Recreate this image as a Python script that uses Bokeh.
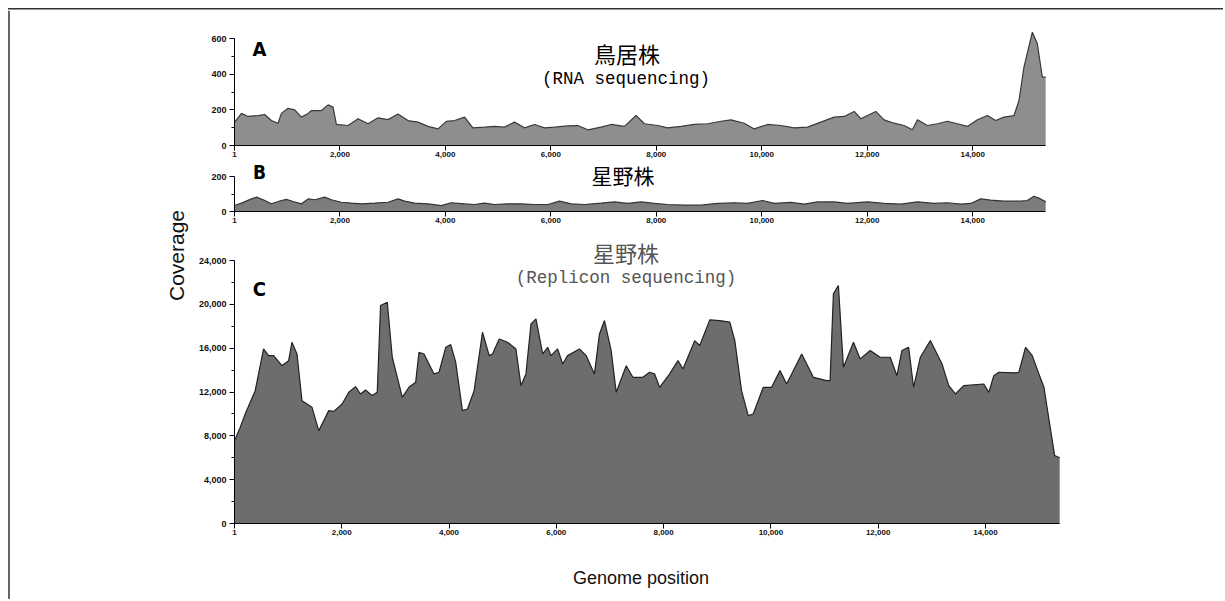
from math import pi
from bokeh.plotting import figure
from bokeh.layouts import row, column
from bokeh.models import Range1d, FixedTicker, NumeralTickFormatter, Label, Span, Div
from bokeh.embed import file_html
from bokeh.resources import INLINE

GENOME_LEN = 15384
x_ticks = [1, 2000, 4000, 6000, 8000, 10000, 12000, 14000]

# Panel A: Torii strain, RNA sequencing
a_pos = [1, 133, 259, 448, 574, 700, 827, 890, 1017, 1143, 1270, 1397, 1460, 1649, 1776, 1870,
         1933, 2155, 2344, 2534, 2723, 2913, 3102, 3291, 3481, 3670, 3860, 4017, 4175, 4364,
         4522, 4743, 4932, 5122, 5311, 5501, 5690, 5880, 6069, 6322, 6511, 6701, 6953, 7143,
         7395, 7616, 7774, 8027, 8217, 8469, 8722, 8975, 9226, 9416, 9668, 9857, 10111, 10363,
         10615, 10868, 11120, 11373, 11562, 11752, 11878, 12005, 12162, 12320, 12510, 12699,
         12857, 12952, 13142, 13331, 13521, 13710, 13900, 14089, 14279, 14436, 14593, 14783,
         14878, 14972, 15131, 15226, 15320, 15384]
a_cov = [130, 180, 163, 168, 174, 140, 125, 180, 209, 200, 159, 180, 196, 196, 228, 215,
         118, 112, 150, 122, 155, 145, 177, 140, 131, 107, 93, 135, 140, 159,
         99, 103, 107, 103, 131, 99, 118, 99, 103, 110, 112, 88, 103, 118,
         107, 168, 122, 112, 99, 107, 118, 122, 136, 144, 125, 93, 118, 112,
         99, 103, 131, 159, 163, 191, 150, 168, 191, 144, 125, 112,
         88, 144, 112, 122, 136, 122, 107, 144, 168, 140, 159, 168,
         252, 439, 635, 570, 383, 383]

# Panel B: Hoshino strain, RNA sequencing
b_pos = [1, 133, 323, 418, 545, 700, 890, 986, 1112, 1270, 1397, 1523, 1712, 1838, 2028,
         2217, 2406, 2659, 2913, 3102, 3228, 3418, 3670, 3922, 4112, 4364, 4553, 4743, 4932,
         5185, 5438, 5690, 5943, 6164, 6385, 6637, 6953, 7206, 7458, 7711, 7964, 8217, 8532,
         8848, 9164, 9479, 9731, 10016, 10237, 10552, 10805, 11057, 11373, 11625, 12005,
         12320, 12636, 12952, 13268, 13521, 13773, 13963, 14152, 14341, 14593, 14909, 15035,
         15162, 15288, 15384]
b_cov = [34, 48, 72, 82, 67, 44, 63, 69, 57, 44, 72, 67, 82, 67, 53,
         48, 44, 48, 53, 72, 59, 48, 44, 34, 50, 44, 40, 48, 40,
         44, 44, 40, 40, 59, 44, 40, 48, 55, 46, 55, 46, 40, 36,
         36, 46, 50, 46, 63, 46, 52, 42, 55, 55, 46, 55,
         46, 42, 55, 46, 50, 42, 46, 72, 65, 59, 59, 63,
         87, 72, 55]

# Panel C: Hoshino strain, replicon sequencing
c_pos = [1, 107, 200, 387, 543, 636, 730, 885, 1010, 1072, 1166, 1259, 1446, 1571, 1758,
         1851, 2007, 2132, 2257, 2350, 2444, 2568, 2662, 2724, 2849, 2942, 3129, 3253, 3378,
         3440, 3534, 3720, 3814, 3939, 4032, 4125, 4250, 4344, 4468, 4624, 4749, 4811, 4936,
         5092, 5247, 5341, 5434, 5528, 5621, 5746, 5839, 5900, 6025, 6119, 6212, 6431, 6556,
         6711, 6805, 6898, 7023, 7117, 7304, 7428, 7614, 7739, 7833, 7926, 8113, 8269, 8362,
         8580, 8674, 8861, 9048, 9235, 9328, 9453, 9578, 9671, 9858, 10014, 10170, 10294,
         10575, 10792, 11042, 11104, 11166, 11259, 11353, 11540, 11665, 11852, 12038, 12225,
         12350, 12443, 12568, 12661, 12786, 12973, 13191, 13316, 13440, 13596, 13969, 14063,
         14156, 14250, 14561, 14623, 14748, 14873, 14997, 15091, 15184, 15290, 15384]
c_cov = [7550, 8770, 9990, 12120, 15930, 15320, 15320, 14400, 14860, 16540, 15470, 11210,
         10600, 8470, 10300, 10230, 10900, 11970, 12490, 11820, 12180, 11670, 11970, 19890,
         20190, 15170, 11510, 12430, 12880, 15620, 15470, 13650, 13800, 16080, 16330, 14710,
         10300, 10450, 12120, 17450, 15320, 15470, 16840, 16540, 15930, 12580, 13650, 18210,
         18670, 15470, 16080, 15320, 15930, 14560, 15320, 15930, 15320, 13650, 17300, 18520,
         15780, 11970, 14400, 13340, 13340, 13800, 13650, 12430, 13650, 14860, 14100, 16690,
         16240, 18580, 18520, 18370, 16690, 12120, 9840, 9990, 12430, 12430, 13950, 12730,
         15470, 13340, 13040, 13040, 20960, 21720, 14250, 16540, 15020, 15780, 15170, 15170,
         13490, 15780, 16080, 12430, 15170, 16690, 14560, 12580, 11820, 12580, 12730, 11970,
         13490, 13800, 13750, 13800, 16080, 15320, 13650, 12430, 9500, 6200, 6000]

a_yticks, a_yminor, a_ytop = [0, 200, 400, 600], [100, 300, 500], 600
b_yticks, b_yminor, b_ytop = [0, 200], [100], 200
c_yticks = [0, 4000, 8000, 12000, 16000, 20000, 24000]
c_yminor = [2000, 6000, 10000, 14000, 18000, 22000]
c_ytop = 24000

# ---- layout geometry (page pixels) ----
TOTAL_W, TOTAL_H = 1223, 599
TOP_H = 10
LEFT_W = 195
PANEL_W = TOTAL_W - LEFT_W
FRAME_L = 233                       # page x of the plot frames' left edge
FRAME_W = TOTAL_W - FRAME_L
A_PXPU = 812 / (GENOME_LEN - 1)     # px per base, panels A/B
C_PXPU = 826 / (GENOME_LEN - 1)     # px per base, panel C

A_TOP, A_BOT, A_H = TOP_H, 145, 150
B_TOP, B_BOT, B_H = A_TOP + A_H, 211, 76
C_TOP, C_BOT, C_H = B_TOP + B_H, 523, 324
G_TOP = C_TOP + C_H
G_H = TOTAL_H - G_TOP

a_ppv = 107 / 600
b_ppv = 35 / 200
c_ppv = 263 / 24000

TICK_FONT = "Liberation Sans"


def panel(pos, cov, fill, edge, h, top, bot, ppv, pxpu, ytop, yticks, yminor):
    frame_h = bot - top
    p = figure(width=PANEL_W, height=h,
               x_range=Range1d(1, 1 + FRAME_W / pxpu), y_range=Range1d(0, frame_h / ppv),
               output_backend="svg", toolbar_location=None,
               min_border_left=FRAME_L - LEFT_W, min_border_right=0,
               min_border_top=0, min_border_bottom=h - frame_h,
               outline_line_color=None, background_fill_color="white", border_fill_color="white")
    p.grid.visible = False
    p.varea(x=pos, y1=0, y2=cov, fill_color=fill)
    p.line(x=pos, y=cov, line_color=edge, line_width=1.2)
    xa = p.xaxis[0]
    xa.ticker = FixedTicker(ticks=x_ticks)
    xa.formatter = NumeralTickFormatter(format="0,0")
    xa.bounds = (1, GENOME_LEN)
    xa.major_tick_out = 5
    xa.major_tick_in = 0
    xa.minor_tick_out = 0
    xa.minor_tick_in = 0
    xa.major_label_standoff = 1
    xa.major_label_text_font_size = "8px"
    ya = p.yaxis[0]
    ya.ticker = FixedTicker(ticks=yticks, minor_ticks=yminor)
    ya.formatter = NumeralTickFormatter(format="0,0")
    ya.bounds = (0, ytop)
    ya.major_tick_out = 5
    ya.major_tick_in = 0
    ya.minor_tick_out = 3
    ya.minor_tick_in = 0
    ya.major_label_standoff = 3
    ya.major_label_text_font_size = "9px"
    for ax in (xa, ya):
        ax.axis_line_color = "black"
        ax.major_tick_line_color = "black"
        ax.minor_tick_line_color = "black"
        ax.major_label_text_font = TICK_FONT
        ax.major_label_text_font_style = "bold"
        ax.major_label_text_color = "#111111"
    return p


def add_text(p, x, y, text, font, size, color="black", style="normal", angle=0):
    p.add_layout(Label(x=x, y=y, text=text, text_font=font, text_font_size=size,
                       text_color=color, text_font_style=style, angle=angle,
                       text_align="center", text_baseline="middle"))


def blank(w, h, xr, yr, left=0):
    p = figure(width=w, height=h, x_range=Range1d(*xr), y_range=Range1d(*yr),
               x_axis_location=None, y_axis_location=None, output_backend="svg",
               toolbar_location=None, min_border=0, min_border_left=left,
               outline_line_color=None, background_fill_color="white", border_fill_color="white")
    p.grid.visible = False
    return p


# page-pixel -> data helpers for text placement
def a_xy(px, py):
    return 1 + (px - FRAME_L) / A_PXPU, (A_BOT - py) / a_ppv


def b_xy(px, py):
    return 1 + (px - FRAME_L) / A_PXPU, (B_BOT - py) / b_ppv


def c_xy(px, py):
    return 1 + (px - FRAME_L) / C_PXPU, (C_BOT - py) / c_ppv


pA = panel(a_pos, a_cov, "#8e8e8e", "#3a3a3a", A_H, A_TOP, A_BOT, a_ppv, A_PXPU, a_ytop, a_yticks, a_yminor)
pB = panel(b_pos, b_cov, "#7c7c7c", "#333333", B_H, B_TOP, B_BOT, b_ppv, A_PXPU, b_ytop, b_yticks, b_yminor)
pC = panel(c_pos, c_cov, "#6d6d6d", "#222222", C_H, C_TOP, C_BOT, c_ppv, C_PXPU, c_ytop, c_yticks, c_yminor)

CJK = "Noto Sans CJK JP"
MONO = "Liberation Mono"
LETTER = "Liberation Sans Narrow, DejaVu Sans Condensed, Liberation Sans"

add_text(pA, *a_xy(258, 48.5), "A", LETTER, "20px", style="bold")
add_text(pA, *a_xy(626, 52), "鳥居株", CJK, "22px")
add_text(pA, *a_xy(625, 78), "(RNA sequencing)", MONO, "17.5px")

add_text(pB, *b_xy(258, 171), "B", LETTER, "19px", style="bold")
add_text(pB, *b_xy(622, 174.5), "星野株", CJK, "21px")

add_text(pC, *c_xy(258, 288.5), "C", LETTER, "20px", style="bold")
add_text(pC, *c_xy(625, 251), "星野株", CJK, "22px", color="#555555")
add_text(pC, *c_xy(625, 277), "(Replicon sequencing)", MONO, "17.5px", color="#555555")

# bottom strip with the shared x-axis title (frame aligned with the panels)
pG = blank(PANEL_W, G_H, (FRAME_L, TOTAL_W), (0, G_H), left=FRAME_L - LEFT_W)
add_text(pG, 640, G_H - (577 - G_TOP), "Genome position", "Liberation Sans", "18px", color="#111111")

# left strip with the shared y-axis title and the page rule
LEFT_H = TOTAL_H - TOP_H
pL = blank(LEFT_W, LEFT_H, (0, LEFT_W), (0, LEFT_H))
pL.add_layout(Span(location=8.5, dimension="height", line_color="#333333", line_width=1.5))
add_text(pL, 176, LEFT_H - (255 - TOP_H), "Coverage", "Liberation Sans", "21px",
         color="#111111", angle=pi / 2)

# top page rule
top_rule = Div(text="", width=TOTAL_W, height=TOP_H, margin=0,
               styles={"background-image": "linear-gradient(#333333, #333333)",
                       "background-repeat": "no-repeat",
                       "background-size": f"{TOTAL_W - 8}px 1.5px",
                       "background-position": "8px 8px"})

layout = column(top_rule, row(pL, column(pA, pB, pC, pG, spacing=0), spacing=0), spacing=0)

open("out.html", "w").write(file_html(layout, INLINE))
